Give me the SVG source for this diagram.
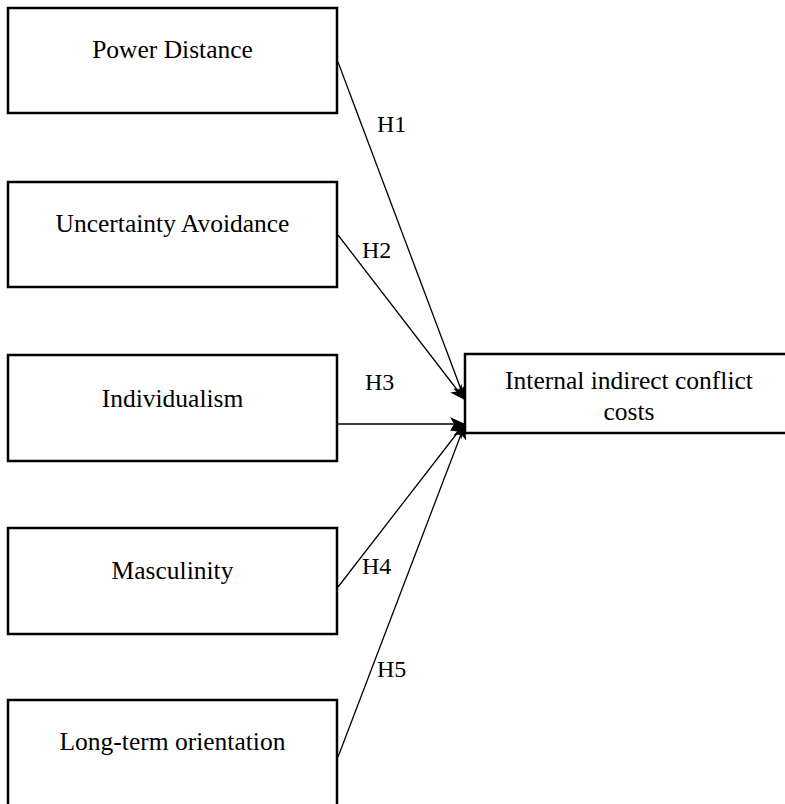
<svg xmlns="http://www.w3.org/2000/svg" width="785" height="804" viewBox="0 0 785 804">
<style>
.box{fill:#fff;stroke:#000;stroke-width:2.5}
.lbl{font-family:"Liberation Serif","Times New Roman",serif;font-size:25.5px;fill:#000;text-anchor:middle}
.h{font-family:"Liberation Serif","Times New Roman",serif;font-size:24px;fill:#000}
.edge{stroke:#000;stroke-width:1.3;fill:none;marker-end:url(#arr)}
</style>
<defs>
<marker id="arr" markerUnits="userSpaceOnUse" markerWidth="16" markerHeight="14" refX="15" refY="7" orient="auto">
<path d="M0,0 L15,7 L0,14 L4,7 z" fill="#000"/>
</marker>
</defs>
<rect width="785" height="804" fill="#fff"/>
<g id="connectors">
<line class="edge" x1="338" y1="62" x2="465" y2="400"/>
<line class="edge" x1="338" y1="235" x2="465" y2="400"/>
<line class="edge" x1="338" y1="424" x2="465" y2="424"/>
<line class="edge" x1="338" y1="587" x2="465" y2="423"/>
<line class="edge" x1="338" y1="757" x2="465" y2="424"/>
<text class="h" x="377" y="132">H1</text>
<text class="h" x="362" y="258">H2</text>
<text class="h" x="365" y="390">H3</text>
<text class="h" x="362" y="574">H4</text>
<text class="h" x="377" y="677">H5</text>
</g>
<g id="power-distance">
<rect class="box" x="8" y="8" width="329" height="105"/>
<text class="lbl" x="172.5" y="58">Power Distance</text>
</g>
<g id="uncertainty-avoidance">
<rect class="box" x="8" y="182" width="329" height="105"/>
<text class="lbl" x="172.5" y="232">Uncertainty Avoidance</text>
</g>
<g id="individualism">
<rect class="box" x="8" y="355" width="329" height="106"/>
<text class="lbl" x="172.5" y="407">Individualism</text>
</g>
<g id="masculinity">
<rect class="box" x="8" y="528" width="329" height="106"/>
<text class="lbl" x="172.5" y="579">Masculinity</text>
</g>
<g id="long-term-orientation">
<rect class="box" x="8" y="700" width="329" height="110"/>
<text class="lbl" x="172.5" y="750">Long-term orientation</text>
</g>
<g id="internal-indirect-conflict-costs">
<rect class="box" x="465" y="354" width="330" height="79"/>
<text class="lbl" x="629" y="389">Internal indirect conflict</text>
<text class="lbl" x="629" y="420">costs</text>
</g>
</svg>
